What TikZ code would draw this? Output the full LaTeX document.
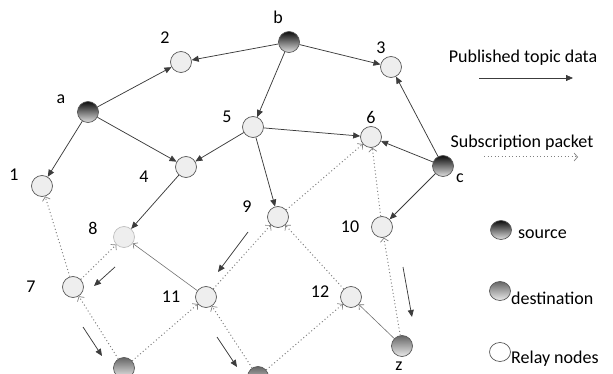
\documentclass[tikz,border=0pt]{standalone}
\usepackage{fontspec}
\setmainfont{Carlito}
\usetikzlibrary{arrows.meta,shapes.geometric}
\definecolor{edgec}{HTML}{3C3C3C}
\definecolor{ringc}{HTML}{5A5A5A}
\definecolor{relayfill}{HTML}{EEEEEE}
\begin{document}
\begin{tikzpicture}[x=1pt,y=-1pt,
  font=\fontsize{18}{21}\selectfont,
  relay/.style={circle,draw=ringc,fill=relayfill,minimum size=21pt,inner sep=0pt,line width=0.7pt},
  src/.style={circle,draw=ringc,top color=black!95,bottom color=black!12,minimum size=21pt,inner sep=0pt,line width=0.7pt},
  dst/.style={circle,draw=ringc,top color=black!60,bottom color=black!8,minimum size=21pt,inner sep=0pt,line width=0.7pt},
  lbl/.style={inner sep=0pt},
  pub/.style={draw=edgec,line width=0.75pt,-{Triangle[length=7pt,width=6pt]}},
  thinpub/.style={draw=black!55,line width=0.6pt,-{Straight Barb[length=3.5pt,width=7pt]}},
  sub/.style={draw=black!50,line width=1pt,dash pattern=on 1pt off 2.5pt,-{Straight Barb[length=3.5pt,width=8pt,line width=0.7pt]}}]
\useasboundingbox (0,0) rectangle (613,374);

% sources
\node[src] (a) at (88,112) {};
\node[src] (b) at (289,42) {};
\node[src] (c) at (443,166) {};
% relay nodes
\node[relay] (n1) at (42,186) {};
\node[relay] (n2) at (181,62) {};
\node[relay] (n3) at (391,67) {};
\node[relay] (n4) at (186,167) {};
\node[relay] (n5) at (253,127) {};
\node[relay] (n6) at (371,137) {};
\node[relay] (n7) at (73,287) {};
\node[relay,draw=black!25] (n8) at (124,237) {};
\node[relay] (n9) at (278,217) {};
\node[relay] (n10) at (382,227) {};
\node[relay] (n11) at (206,297) {};
\node[relay] (n12) at (351,297) {};
% destinations
\node[dst] (d1) at (124,368) {};
\node[dst] (d2) at (258,377) {};
\node[dst] (z) at (402,346) {};

% node labels
\node[lbl] (la) at (61,99) {a};
\node[lbl] (lb) at (278,17) {b};
\node[lbl] (lc) at (460,178) {c};
\node[lbl] (lz) at (399,366) {z};
\node[lbl] (l1) at (14,175) {1};
\node[lbl] (l2) at (165,38) {2};
\node[lbl] (l3) at (381,48) {3};
\node[lbl] (l4) at (144,177) {4};
\node[lbl] (l5) at (227,117) {5};
\node[lbl] (l6) at (371,117) {6};
\node[lbl] (l7) at (31,287) {7};
\node[lbl] (l8) at (93,228) {8};
\node[lbl] (l9) at (247,207) {9};
\node[lbl] (l10) at (350,227) {10};
\node[lbl] (l11) at (171,297) {11};
\node[lbl] (l12) at (320,292) {12};

% published topic data
\draw[pub] (b) -- (n2);
\draw[pub] (b) -- (n5);
\draw[pub] (b) -- (n3);
\draw[pub] (a) -- (n2);
\draw[pub] (a) -- (n4);
\draw[pub] (a) -- (n1);
\draw[pub] (n5) -- (n4);
\draw[pub] (n5) -- (n6);
\draw[pub] (n5) -- (n9);
\draw[pub] (c) -- (n3);
\draw[pub] (c) -- (n6);
\draw[pub] (c) -- (n10);
\draw[pub] (n4) -- (n8);
\draw[thinpub] (n11) -- (n8);
\draw[thinpub] (z) -- (n12);

% subscription packets
\draw[sub] (n7) -- (n1);
\draw[sub] (d1) -- (n7);
\draw[sub] (n7) -- (n8);
\draw[sub] (d1) -- (n11);
\draw[sub] (d2) -- (n11);
\draw[sub] (n11) -- (n9);
\draw[sub] (d2) -- (n12);
\draw[sub] (n12) -- (n9);
\draw[sub] (n9) -- (n6);
\draw[sub] (n10) -- (n6);
\draw[sub] (z) -- (n10);

% direction hints along the reverse paths
\coordinate (f1s) at (115,267); \coordinate (f1e) at (94,286);
\coordinate (f2s) at (83,327);  \coordinate (f2e) at (102,356);
\coordinate (f3s) at (248,232); \coordinate (f3e) at (218,272);
\coordinate (f4s) at (217,337); \coordinate (f4e) at (237,367);
\coordinate (f5s) at (403,267); \coordinate (f5e) at (412,317);
\draw[pub] (f1s) -- (f1e);
\draw[pub] (f2s) -- (f2e);
\draw[pub] (f3s) -- (f3e);
\draw[pub] (f4s) -- (f4e);
\draw[pub] (f5s) -- (f5e);

% legend
\node[lbl] (tpub) at (523,58) {Published topic data};
\coordinate (p1) at (479,78); \coordinate (p2) at (573,78);
\draw[pub] (p1) -- (p2);
\node[lbl] (tsub) at (522,143) {Subscription packet};
\coordinate (s1) at (484,157); \coordinate (s2) at (578,157);
\draw[sub] (s1) -- (s2);
\node[src,ellipse,minimum width=21pt,minimum height=19pt] (ksrc) at (501,230) {};
\node[lbl,anchor=west] (tsrc) at (518,234) {source};
\node[dst,ellipse,minimum width=21pt,minimum height=19pt] (kdst) at (500,291) {};
\node[lbl,anchor=west] (tdst) at (511,298) {destination};
\node[relay,ellipse,minimum width=21pt,minimum height=19pt,fill=white] (krel) at (500,352) {};
\node[lbl,anchor=west] (trel) at (511,359) {Relay nodes};
\end{tikzpicture}
\end{document}
